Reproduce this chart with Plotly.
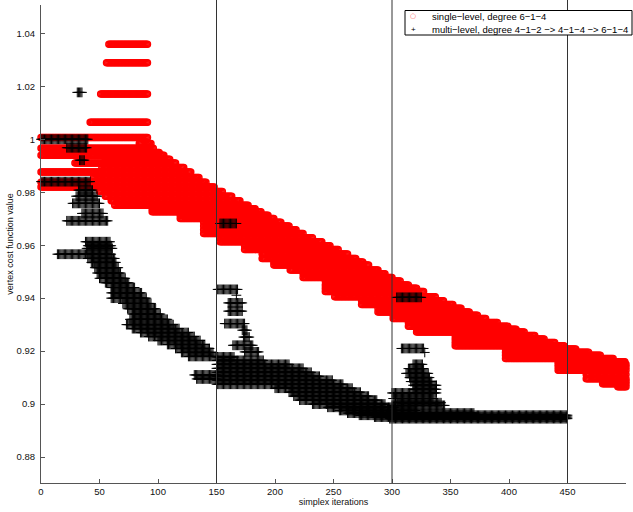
import plotly.graph_objects as go

# ---- data: each simplex vertex value and the iterations it lives through ----
red_vals = [1.0359, 1.0289, 1.0171, 1.0064, 1.0007, 0.9984, 0.9966, 0.9950, 0.9940, 0.9925,
            0.9910, 0.9893, 0.9876, 0.9856, 0.9838, 0.9820, 0.9803, 0.9785, 0.9768, 0.9751,
            0.9738, 0.9726, 0.9713, 0.9701, 0.9687, 0.9672, 0.9658, 0.9644, 0.9628, 0.9613,
            0.9598, 0.9584, 0.9567, 0.9550, 0.9537, 0.9525, 0.9506, 0.9492, 0.9478, 0.9465,
            0.9450, 0.9437, 0.9425, 0.9405, 0.9390, 0.9376, 0.9362, 0.9348, 0.9335, 0.9323,
            0.9308, 0.9294, 0.9283, 0.9272, 0.9259, 0.9246, 0.9233, 0.9220, 0.9208, 0.9196,
            0.9184, 0.9172, 0.9160, 0.9150, 0.9140, 0.9128, 0.9112, 0.9096, 0.9086, 0.9077,
            0.9065]
red_start = [58, 56, 51, 42, 0, 84, 0, 50, 0, 55,
             29, 52, 0, 45, 0, 0, 50, 55, 60, 63,
             95, 95, 119, 119, 139, 139, 139, 139, 153, 153,
             174, 174, 189, 189, 199, 199, 213, 224, 224, 243,
             243, 243, 243, 251, 274, 274, 288, 288, 301, 301,
             314, 314, 321, 321, 354, 354, 354, 354, 397, 397,
             397, 397, 442, 442, 442, 442, 466, 466, 480, 480,
             493]
red_end = [91, 91, 91, 91, 91, 94, 96, 101, 105, 110,
           115, 122, 128, 135, 141, 148, 155, 163, 170, 177,
           183, 188, 194, 199, 205, 212, 218, 224, 232, 240,
           247, 254, 262, 269, 275, 280, 288, 294, 300, 307,
           314, 321, 327, 337, 344, 352, 359, 366, 373, 380,
           390, 399, 406, 413, 422, 430, 439, 447, 457, 468,
           478, 489, 499, 500, 500, 500, 500, 500, 500, 500,
           500]

black_vals = [1.0000, 1.0177, 0.9968, 0.9921, 0.9840, 0.9808, 0.9785, 0.9758, 0.9720, 0.9692,
              0.9613, 0.9598, 0.9588, 0.9566, 0.9550, 0.9535, 0.9515, 0.9495, 0.9475, 0.9458,
              0.9440, 0.9420, 0.9400, 0.9380, 0.9360, 0.9340, 0.9320, 0.9300, 0.9285, 0.9270,
              0.9255, 0.9240, 0.9225, 0.9210, 0.9195, 0.9180, 0.9110, 0.9095,
              0.9682, 0.9433, 0.9411, 0.9382, 0.9351, 0.9304, 0.9279, 0.9253, 0.9222, 0.9197,
              0.9178, 0.9165, 0.9150, 0.9135, 0.9120, 0.9105, 0.9090, 0.9075, 0.9060, 0.9045,
              0.9030, 0.9015, 0.9000, 0.8988, 0.8976, 0.8966, 0.8958, 0.8951, 0.8945,
              0.9403, 0.9210, 0.9195, 0.9150, 0.9134, 0.9116, 0.9100, 0.9085, 0.9071, 0.9056,
              0.9042, 0.9021, 0.9005, 0.8995]
black_start = [0, 31, 22, 33, 0, 32, 30, 27, 35, 22,
               38, 40, 39, 14, 40, 43, 46, 48, 50, 55,
               60, 60, 60, 70, 74, 78, 76, 73, 78, 85,
               92, 100, 108, 115, 120, 126, 131, 133,
               153, 151, 167, 160, 160, 157, 172, 173, 164, 174,
               150, 150, 150, 150, 150, 150, 150, 150, 200, 212,
               216, 221, 232, 245, 255, 262, 272, 285, 298,
               304, 308, 328, 318, 314, 312, 315, 316, 318, 318,
               300, 301, 305, 300]
black_end = [40, 35, 39, 37, 42, 44, 48, 50, 53, 57,
             59, 60, 61, 60, 63, 64, 66, 68, 72, 75,
             80, 86, 90, 94, 98, 102, 108, 113, 118, 126,
             131, 136, 140, 144, 147, 150, 150, 150,
             167, 168, 167, 172, 172, 174, 176, 178, 181, 186,
             165, 190, 212, 224, 231, 238, 249, 258, 266, 273,
             280, 287, 294, 302, 320, 370, 450, 450, 450,
             325, 327, 328, 326, 327, 331, 332, 334, 338, 338,
             338, 335, 342, 345]

x_ticks = [0, 50, 100, 150, 200, 250, 300, 350, 400, 450, 500]
y_ticks = [0.88, 0.90, 0.92, 0.94, 0.96, 0.98, 1.00, 1.02, 1.04]
y_tick_text = ["0.88", "0.9", "0.92", "0.94", "0.96", "0.98", "1", "1.02", "1.04"]
level_switches = [150, 300, 450]
legend_labels = ["single\u2212level, degree 6\u22121\u22124",
                 "multi\u2212level, degree 4\u22121\u22122 \u2212> 4\u22121\u22124 \u2212> 6\u22121\u22124"]


def expand(vals, starts, ends):
    xs, ys = [], []
    for v, a, b in zip(vals, starts, ends):
        for it in range(a, b + 1):
            xs.append(it)
            ys.append(v)
    return xs, ys


rx, ry = expand(red_vals, red_start, red_end)
bx, by = expand(black_vals, black_start, black_end)

fig = go.Figure()
fig.add_trace(go.Scatter(
    x=rx, y=ry, mode="markers", name=legend_labels[0], showlegend=False,
    cliponaxis=False,
    marker=dict(symbol="circle-open", size=6, color="#ff0000", line=dict(width=1.5, color="#ff0000")),
))
fig.add_trace(go.Scatter(
    x=bx, y=by, mode="markers", name=legend_labels[1], showlegend=False,
    cliponaxis=False,
    marker=dict(symbol="cross-thin", size=7, color="#000000", line=dict(width=1, color="#000000")),
))

L, R, T, B = 41, 7, 5, 29
W, H = 633, 512
pw, ph = W - L - R, H - T - B


def px_x(p):
    return (p - L) / pw


def px_y(p):
    return (H - B - p) / ph


shapes = []
for xv in level_switches:
    shapes.append(dict(type="line", xref="x", yref="paper", x0=xv, x1=xv, y0=0, y1=px_y(0),
                       line=dict(color="#333333", width=1), layer="above"))
shapes.append(dict(type="rect", xref="paper", yref="paper",
                   x0=px_x(405), x1=px_x(632), y0=px_y(35), y1=px_y(10.5),
                   line=dict(color="#000000", width=1), fillcolor="white", layer="above"))

row1, row2 = 16.5, 29
annotations = [
    dict(xref="paper", yref="paper", x=px_x(413), y=px_y(row1), text="\u25cb", showarrow=False,
         borderpad=0, xanchor="center", yanchor="middle",
         font=dict(size=7, color="#ff6060", family="DejaVu Sans")),
    dict(xref="paper", yref="paper", x=px_x(413), y=px_y(row2), text="+", showarrow=False,
         borderpad=0, xanchor="center", yanchor="middle",
         font=dict(size=8, color="#000000", family="Liberation Sans")),
    dict(xref="paper", yref="paper", x=px_x(431), y=px_y(row1), text=legend_labels[0], showarrow=False,
         borderpad=0, xanchor="left", yanchor="middle",
         font=dict(size=9.5, color="#000000", family="Liberation Sans")),
    dict(xref="paper", yref="paper", x=px_x(431), y=px_y(row2), text=legend_labels[1], showarrow=False,
         borderpad=0, xanchor="left", yanchor="middle",
         font=dict(size=9.5, color="#000000", family="Liberation Sans")),
]

axis_common = dict(showgrid=False, zeroline=False, showline=True, linecolor="#555555", linewidth=1,
                   ticks="inside", ticklen=4, tickcolor="#555555",
                   tickfont=dict(family="Liberation Sans", size=9.5, color="#111111"))

fig.update_layout(
    width=W, height=H,
    margin=dict(l=L, r=R, t=T, b=B, pad=0),
    paper_bgcolor="white", plot_bgcolor="white",
    showlegend=False,
    shapes=shapes,
    annotations=annotations,
    xaxis=dict(range=[0, 500], tickvals=x_ticks,
               title=dict(text="simplex iterations", standoff=0,
                          font=dict(family="Liberation Sans", size=9, color="#111111")),
               **axis_common),
    yaxis=dict(range=[0.8702, 1.0507], tickvals=y_ticks, ticktext=y_tick_text,
               ticklabelstandoff=3,
               title=dict(text="vertex cost function value", standoff=1,
                          font=dict(family="Liberation Sans", size=9, color="#111111")),
               **axis_common),
)

fig.write_html("out.html")
